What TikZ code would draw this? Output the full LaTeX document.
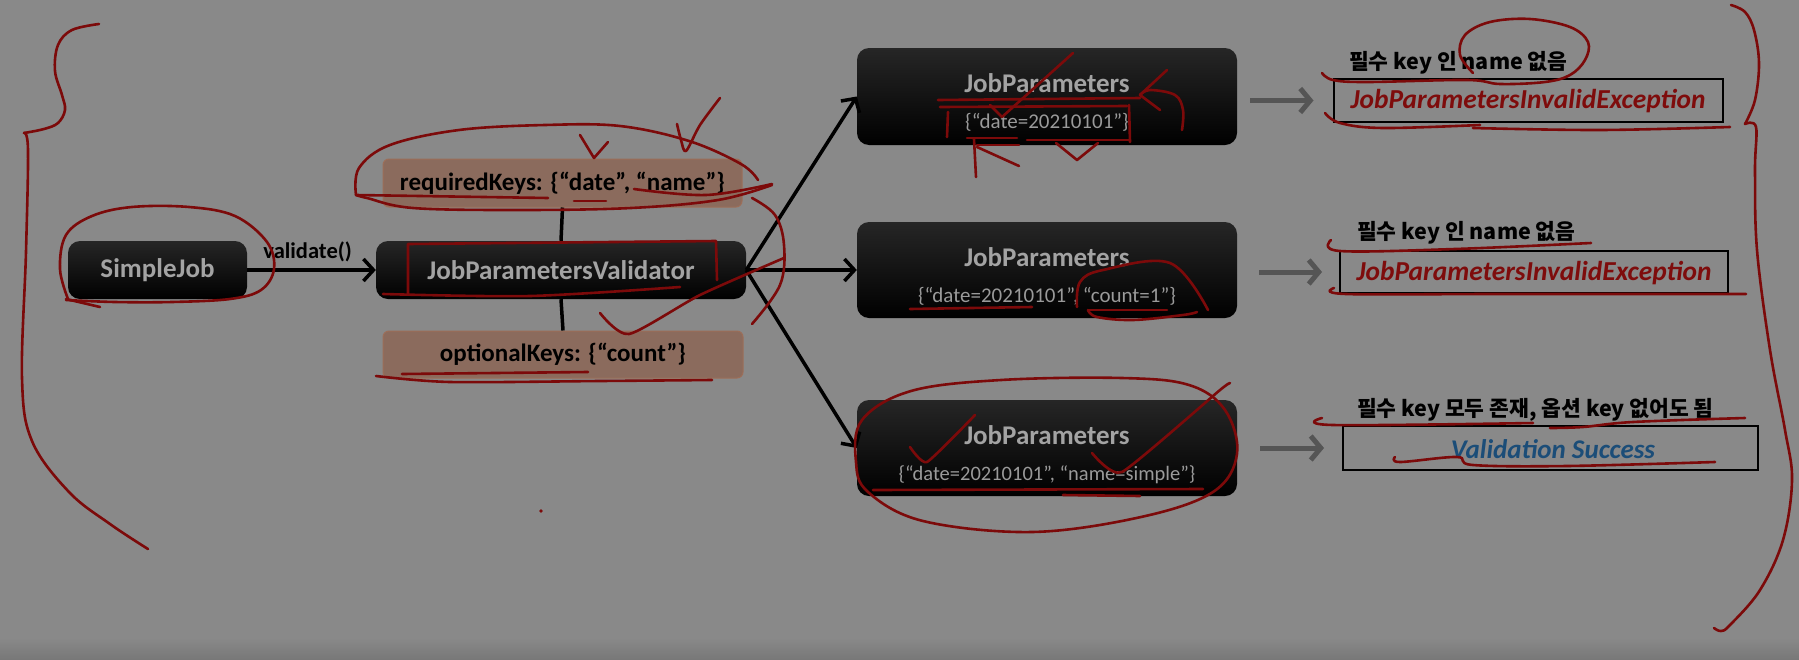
\documentclass[tikz,border=0pt]{standalone}
\usepackage{fontspec}
\setmainfont{Carlito}
\newfontfamily\kr{Noto Sans CJK KR}
\usetikzlibrary{arrows.meta}
\definecolor{bg}{HTML}{898989}
\definecolor{bgdark}{HTML}{787878}
\definecolor{boxtop}{HTML}{262626}
\definecolor{boxtext}{HTML}{A3A3A3}
\definecolor{boxtext2}{HTML}{9A9A9A}
\definecolor{brownfill}{HTML}{8B6B5D}
\definecolor{browndraw}{HTML}{9C6E58}
\definecolor{exred}{HTML}{7E0C0C}
\definecolor{okblue}{HTML}{1B4D78}
\definecolor{arrgray}{HTML}{555555}
\definecolor{pen}{HTML}{7C0A0A}
\begin{document}
\begin{tikzpicture}[x=1pt,y=-1pt,
  bbox/.style={rounded corners=12pt, top color=boxtop, bottom color=black, draw=none, inner sep=0pt},
  titletext/.style={text=boxtext, font=\bfseries\fontsize{27}{30}\selectfont, inner sep=0pt},
  detailtext/.style={text=boxtext2, font=\fontsize{21}{24}\selectfont, inner sep=0pt},
  keybox/.style={rounded corners=6pt, fill=brownfill, draw=browndraw, line width=1pt, inner sep=0pt, font=\bfseries\fontsize{25}{28}\selectfont},
  resbox/.style={draw=black, line width=2pt, inner sep=0pt},
  extext/.style={text=exred, font=\bfseries\itshape\fontsize{27.4}{30}\selectfont},
  oktext/.style={text=okblue, font=\bfseries\itshape\fontsize{27}{30}\selectfont},
  krlabel/.style={anchor=west, inner sep=0pt, font=\kr\bfseries\fontsize{21.5}{24}\selectfont},
  blk/.style={line width=3.5pt, -{Straight Barb[length=10pt,width=22pt,line width=3.5pt]}},
  blkline/.style={line width=3.5pt},
  grayarr/.style={draw=arrgray, line width=5pt, -{Straight Barb[length=10pt,width=24pt,line width=5pt]}},
  redpen/.style={draw=pen, line width=2.6pt, line cap=round, line join=round}
]
\useasboundingbox (0,0) rectangle (1799,659);
\fill[bg] (0,0) rectangle (1799,659);
\shade[top color=bg, bottom color=bgdark] (0,638) rectangle (1799,659);

% left side
\node[bbox, minimum width=179pt, minimum height=58pt, text=boxtext, font=\bfseries\fontsize{27}{30}\selectfont] (sj) at (157.5,270) {SimpleJob};
\node[bbox, minimum width=370pt, minimum height=58pt, text=boxtext, font=\bfseries\fontsize{27}{30}\selectfont] (val) at (561,270) {JobParametersValidator};
\node[keybox, minimum width=359pt, minimum height=48pt] (req) at (562.5,183) {requiredKeys: \{“date”, “name”\}};
\node[keybox, minimum width=360pt, minimum height=47pt] (opt) at (563,354.5) {optionalKeys: \{“count”\}};

\draw[blk] (sj.east) -- node[pos=0.47, above=6pt, inner sep=0pt, font=\bfseries\fontsize{22.5}{25}\selectfont] (vlab) {validate()} (val.west);
\draw[blkline] (req.south) -- (val.north);
\draw[blkline] (val.south) -- (opt.north);

% job parameter boxes
\node[bbox, minimum width=380pt, minimum height=97pt] (jp1) at (1047,96.5) {};
\node[bbox, minimum width=380pt, minimum height=96pt] (jp2) at (1047,270) {};
\node[bbox, minimum width=380pt, minimum height=96pt] (jp3) at (1047,448) {};
\node[titletext] (t1) at (1047,83) {JobParameters};
\node[detailtext] (d1) at (1047,122) {\{“date=20210101”\}};
\node[titletext] (t2) at (1047,257) {JobParameters};
\node[detailtext] (d2) at (1047,296) {\{“date=20210101”, “count=1”\}};
\node[titletext] (t3) at (1047,435) {JobParameters};
\node[detailtext, font=\fontsize{20.5}{24}\selectfont] (d3) at (1047,475) {\{“date=20210101”, “name=simple”\}};

\draw[blk] (val.east) -- (jp1.west);
\draw[blk] (val.east) -- (jp2.west);
\draw[blk] (val.east) -- (jp3.west);

% results
\node[resbox, minimum width=389pt, minimum height=43pt] (r1) at (1528,100.5) {};
\node[extext] (e1) at (1528,101.5) {JobParametersInvalidException};
\node[resbox, minimum width=388pt, minimum height=42pt] (r2) at (1534,272) {};
\node[extext] (e2) at (1534,273) {JobParametersInvalidException};
\node[resbox, minimum width=415pt, minimum height=44pt] (r3) at (1550.5,448) {};
\node[oktext] (e3) at (1553,449) {Validation Success};

\node[krlabel] (l1) at (1349,63) {필수 key 인 name 없음};
\node[krlabel] (l2) at (1357,233) {필수 key 인 name 없음};
\node[krlabel] (l3) at (1357,410) {필수 key 모두 존재, 옵션 key 없어도 됨};

\draw[grayarr, shorten <=13pt, shorten >=19pt] (jp1.east |- r1.west) -- (r1.west);
\draw[grayarr, shorten <=22pt, shorten >=17pt] (jp2.east |- r2.west) -- (r2.west);
\draw[grayarr, shorten <=23pt, shorten >=18pt] (jp3.east |- r3.west) -- (r3.west);

% ---- handwritten red annotations ----
% left brace
\draw[redpen] plot[smooth, tension=0.6] coordinates {(99,24) (72,30) (58,45) (55,71) (62,95) (65,110) (58,123) (44,129) (24,133)};
\draw[redpen] plot[smooth, tension=0.6] coordinates {(24,133) (28,150) (26,252) (22,378) (32,441) (69,492) (110,524) (148,549)};
% right brace
\draw[redpen] plot[smooth, tension=0.6] coordinates {(1731,5) (1745,12) (1754,30) (1759,63) (1755,100) (1745,124)};
\draw[redpen] plot[smooth, tension=0.6] coordinates {(1745,124) (1756,127) (1755,170) (1757,250) (1770,350) (1785,430) (1792,480) (1783,540) (1760,590) (1730,625) (1721,631) (1714,628)};
% SimpleJob ellipse
\draw[redpen] plot[smooth, tension=0.6] coordinates {(68,299) (60,269) (66,235) (92,216) (132,207) (189,207) (235,216) (267,242) (274,269) (261,290) (230,299) (172,302) (115,302) (66,300)};
\draw[redpen] (66,299) -- (100,307);
% requiredKeys ellipse and underlines
\draw[redpen] plot[smooth, tension=0.6] coordinates {(356,195) (359,168) (390,145) (459,130) (545,125) (620,126) (689,141) (741,164) (758,180)};
\draw[redpen] plot[smooth, tension=0.6] coordinates {(772,185) (718,200) (631,208) (517,210) (413,208) (367,198) (356,195)};
\draw[redpen] (356,195) -- (548,198);
\draw[redpen] (574,201) -- (606,201);
\draw[redpen] plot[smooth, tension=0.6] coordinates {(634,189) (706,195) (772,184)};
\draw[redpen] plot coordinates {(580,135) (594,158) (608,142)};
\draw[redpen] plot[smooth, tension=0.5] coordinates {(677,124) (681,140) (686,151) (700,125) (720,98)};
% validator bracket
\draw[redpen] (408,294) -- (408,244) -- (716,241) -- (717,280);
\draw[redpen] plot[smooth] coordinates {(383,294) (530,296) (680,287)};
\draw[redpen] plot[smooth, tension=0.4] coordinates {(600,313) (629,334) (700,295) (784,258)};
\draw[redpen] plot[smooth, tension=0.6] coordinates {(752,198) (775,215) (784,245) (780,285) (752,324)};
% optionalKeys underlines
\draw[redpen] plot[smooth] coordinates {(376,376) (450,382) (600,381) (712,380)};
\draw[redpen] (402,374) -- (588,372);
\fill[pen] (541,511) circle (1.8pt);
% box 1
\draw[redpen] (938,100) -- (1140,98);
\draw[redpen] (940,107) -- (1127,106);
\draw[redpen] plot coordinates {(990,105) (1002,117) (1073,53)};
\draw[redpen] (948,112) -- (947,137);
\draw[redpen] (1129,105) -- (1130,142);
\draw[redpen] (967,138) -- (1017,138);
\draw[redpen] (1027,140) -- (1130,140);
\draw[redpen] (974,139) -- (976,177);
\draw[redpen] (977,147) -- (1019,166);
\draw[redpen] (977,145) -- (1019,145);
\draw[redpen] plot coordinates {(1056,143) (1077,160) (1098,143)};
\draw[redpen] plot[smooth, tension=0.6] coordinates {(1182,130) (1183,110) (1175,95) (1150,90) (1140,95)};
\draw[redpen] plot coordinates {(1167,70) (1140,95) (1160,110)};
% row 1 label annotations
\draw[redpen] plot[smooth, tension=0.6] coordinates {(1473,73) (1460,55) (1465,35) (1490,22) (1530,19) (1570,27) (1588,42) (1585,60) (1570,75) (1545,82) (1500,84) (1467,80) (1367,82) (1333,80) (1322,73)};
\draw[redpen] plot[smooth, tension=0.6] coordinates {(1325,113) (1340,123) (1383,128) (1480,125)};
\draw[redpen] plot[smooth, tension=0.6] coordinates {(1473,128) (1600,130) (1730,127)};
% row 2
\draw[redpen] plot[smooth, tension=0.6] coordinates {(1331,240) (1340,251) (1455,249) (1591,243)};
\draw[redpen] plot[smooth, tension=0.6] coordinates {(1334,288) (1346,294) (1500,294) (1746,294)};
\draw[redpen] (910,309) -- (1032,307);
\draw[redpen] plot[smooth, tension=0.6] coordinates {(1077,307) (1080,282) (1103,270) (1170,263) (1208,310)};
\draw[redpen] plot[smooth, tension=0.6] coordinates {(1088,310) (1097,317) (1133,320) (1183,315) (1197,312)};
\draw[redpen] (1088,310) -- (1167,310);
% row 3
\draw[redpen] plot[smooth cycle, tension=0.6] coordinates {(856,462) (862,420) (911,391) (1001,380) (1122,378) (1189,385) (1225,410) (1237,454) (1213,492) (1141,517) (1032,532) (923,521) (868,492)};
\draw[redpen] plot[smooth, tension=0.3] coordinates {(910,447) (927,462) (975,415)};
\draw[redpen] plot[smooth, tension=0.3] coordinates {(1092,453) (1122,472) (1220,390) (1230,383)};
\draw[redpen] (873,490) -- (1203,489);
\draw[redpen] (1063,495) -- (1140,496);
\draw[redpen] plot[smooth, tension=0.6] coordinates {(1322,418) (1333,425) (1533,423)};
\draw[redpen] plot[smooth, tension=0.6] coordinates {(1550,428) (1583,427) (1633,422) (1745,418)};
\draw[redpen] plot[smooth, tension=0.6] coordinates {(1395,457) (1400,462) (1457,457) (1473,465) (1567,466) (1715,462)};
\end{tikzpicture}
\end{document}
